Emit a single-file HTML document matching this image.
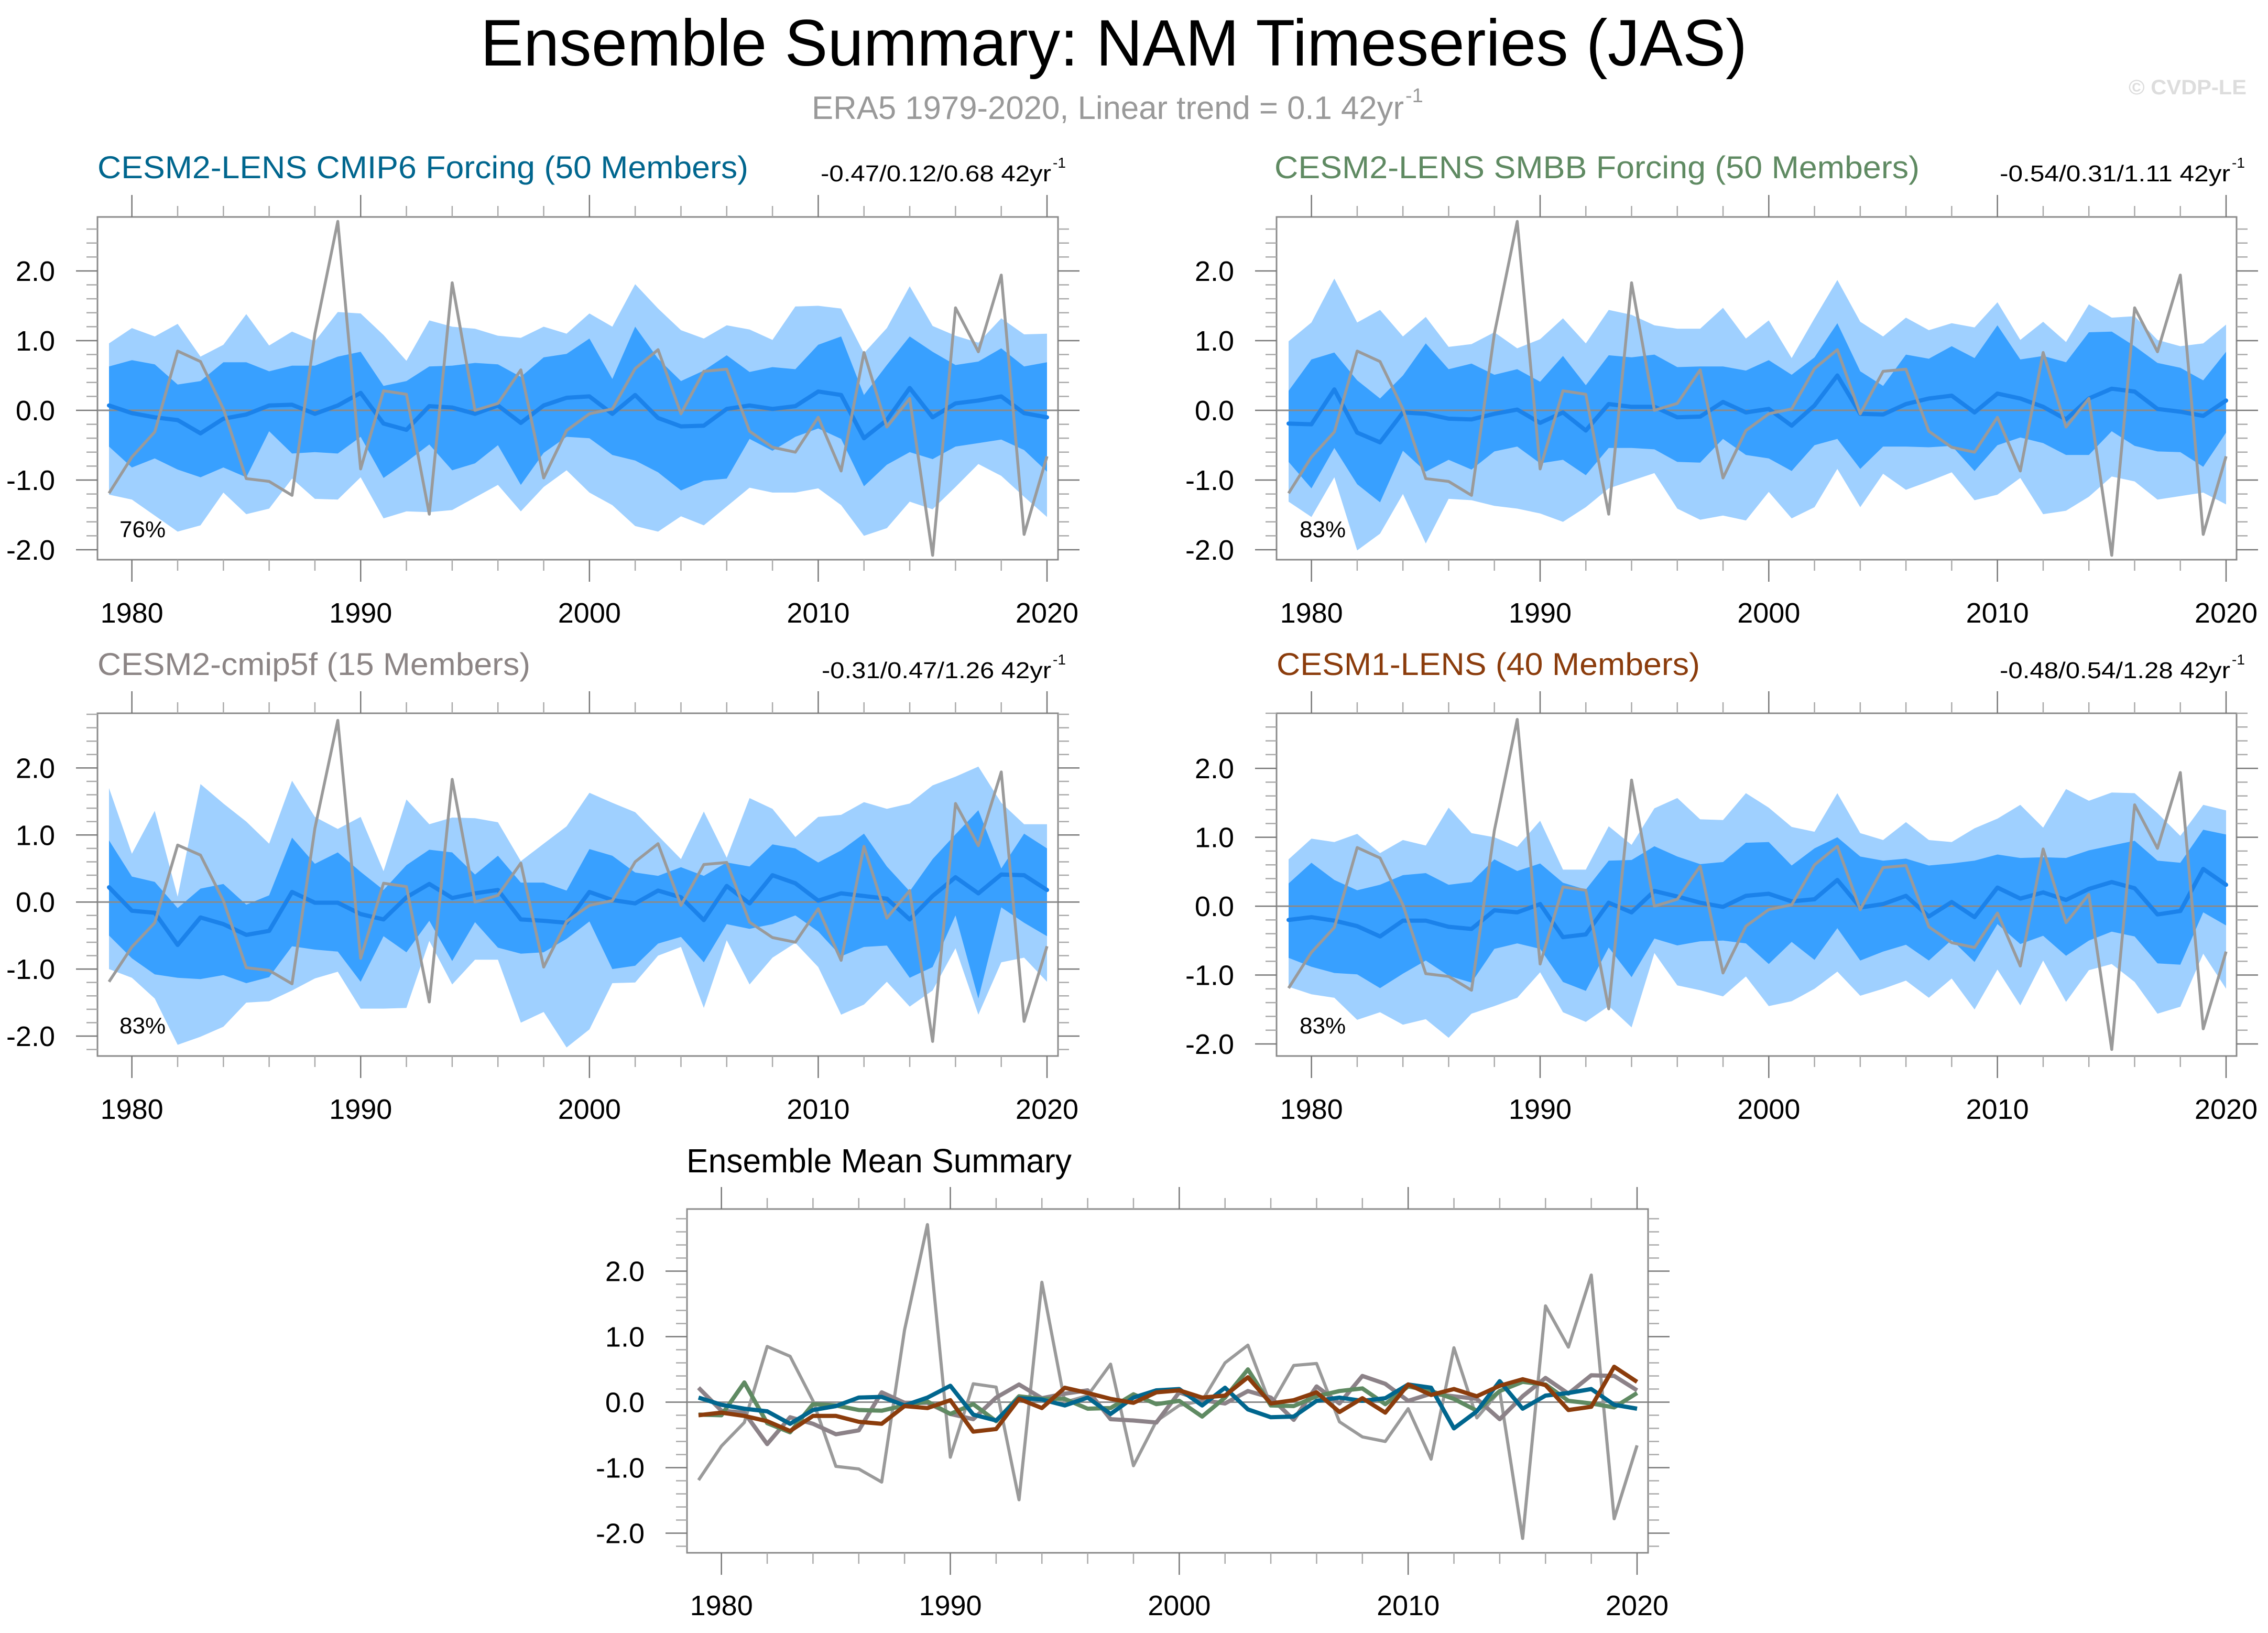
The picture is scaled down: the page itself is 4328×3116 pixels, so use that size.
<!DOCTYPE html>
<html><head><meta charset="utf-8"><title>Ensemble Summary: NAM Timeseries (JAS)</title>
<style>html,body{margin:0;padding:0;background:#fff}svg{display:block}text{font-family:"Liberation Sans",Arial,sans-serif}</style>
</head><body>
<svg id="chart" xmlns="http://www.w3.org/2000/svg" width="4328" height="3116" viewBox="0 0 4328 3116">
<rect x="0" y="0" width="4328" height="3116" fill="#fff"/>
<text x="917" y="125" font-size="125" textLength="2417" lengthAdjust="spacingAndGlyphs" fill="#000">Ensemble Summary: NAM Timeseries (JAS)</text>
<text x="1549" y="227" font-size="62" textLength="1130" lengthAdjust="spacingAndGlyphs" fill="#999">ERA5 1979-2020, Linear trend = 0.1 42yr</text>
<text x="2682" y="195" font-size="38" fill="#999">-1</text>
<text x="4062" y="180" font-size="40" font-weight="bold" textLength="225" lengthAdjust="spacingAndGlyphs" fill="#ddd">© CVDP-LE</text>
<g id="plots"></g>
</svg>
<script>
const years = [1979,1980,1981,1982,1983,1984,1985,1986,1987,1988,1989,1990,1991,1992,1993,1994,1995,1996,1997,1998,1999,2000,2001,2002,2003,2004,2005,2006,2007,2008,2009,2010,2011,2012,2013,2014,2015,2016,2017,2018,2019,2020];
const xTickYears = [1980,1990,2000,2010,2020];
const xTickLabels = ["1980","1990","2000","2010","2020"];
const yTickValues = [-2,-1,0,1,2];
const yTickLabels = ["-2.0","-1.0","0.0","1.0","2.0"];
const obs = [-1.19,-0.67,-0.31,0.85,0.70,0.02,-0.98,-1.02,-1.22,1.10,2.71,-0.84,0.28,0.23,-1.49,1.83,0.00,0.10,0.58,-0.97,-0.29,-0.05,0.02,0.60,0.87,-0.05,0.56,0.59,-0.30,-0.53,-0.60,-0.10,-0.87,0.83,-0.24,0.17,-2.08,1.47,0.84,1.94,-1.78,-0.66];

const mean1 = [0.07,-0.04,-0.10,-0.14,-0.33,-0.12,-0.06,0.07,0.08,-0.05,0.07,0.25,-0.19,-0.28,0.06,0.04,-0.05,0.07,-0.18,0.07,0.18,0.20,-0.05,0.22,-0.11,-0.23,-0.22,0.02,0.07,0.02,0.06,0.27,0.22,-0.40,-0.14,0.32,-0.10,0.10,0.14,0.20,-0.04,-0.10];
const darkHi1 = [0.63,0.72,0.66,0.37,0.42,0.69,0.69,0.56,0.64,0.64,0.77,0.84,0.35,0.42,0.63,0.64,0.68,0.66,0.48,0.76,0.81,1.03,0.45,1.20,0.74,0.42,0.57,0.79,0.55,0.62,0.59,0.94,1.06,0.22,0.65,1.06,0.84,0.65,0.70,0.89,0.63,0.69];
const darkLo1 = [-0.52,-0.82,-0.69,-0.85,-0.96,-0.82,-0.96,-0.30,-0.62,-0.60,-0.62,-0.38,-0.97,-0.74,-0.49,-0.86,-0.76,-0.50,-1.07,-0.61,-0.38,-0.40,-0.64,-0.72,-0.89,-1.15,-1.01,-0.98,-0.41,-0.58,-0.38,-0.26,-0.41,-1.09,-0.78,-0.60,-0.70,-0.52,-0.47,-0.42,-0.57,-0.88];
const lightHi1 = [0.96,1.18,1.06,1.24,0.77,0.94,1.38,0.93,1.13,0.99,1.41,1.39,1.08,0.71,1.29,1.20,1.17,1.07,1.04,1.20,1.10,1.39,1.20,1.81,1.46,1.15,1.03,1.22,1.16,1.01,1.49,1.50,1.46,0.82,1.18,1.78,1.21,1.07,0.97,1.32,1.09,1.10];
const lightLo1 = [-1.21,-1.28,-1.51,-1.74,-1.65,-1.18,-1.49,-1.41,-0.98,-1.27,-1.28,-0.96,-1.55,-1.45,-1.46,-1.43,-1.25,-1.07,-1.45,-1.10,-0.86,-1.18,-1.36,-1.66,-1.74,-1.52,-1.65,-1.38,-1.11,-1.18,-1.18,-1.12,-1.36,-1.80,-1.69,-1.31,-1.42,-1.10,-0.77,-0.94,-1.24,-1.53];

const mean2 = [-0.19,-0.20,0.30,-0.32,-0.46,-0.03,-0.05,-0.12,-0.13,-0.05,0.01,-0.18,-0.03,-0.29,0.09,0.05,0.05,-0.10,-0.09,0.12,-0.03,0.02,-0.22,0.07,0.50,-0.05,-0.06,0.09,0.17,0.21,-0.03,0.24,0.17,0.05,-0.13,0.17,0.31,0.27,0.02,-0.02,-0.08,0.14];
const darkHi2 = [0.28,0.73,0.83,0.43,0.17,0.50,0.96,0.59,0.67,0.51,0.59,0.41,0.78,0.36,0.79,0.76,0.80,0.62,0.63,0.63,0.57,0.72,0.51,0.76,1.25,0.56,0.35,0.80,0.74,0.92,0.75,1.22,0.73,0.78,0.69,1.12,1.13,0.92,0.68,0.61,0.43,0.84];
const darkLo2 = [-0.74,-1.12,-0.54,-1.06,-1.32,-0.58,-0.88,-0.71,-0.85,-0.59,-0.52,-0.76,-0.71,-0.93,-0.54,-0.54,-0.56,-0.74,-0.75,-0.41,-0.64,-0.69,-0.87,-0.50,-0.41,-0.84,-0.52,-0.52,-0.53,-0.51,-0.87,-0.50,-0.39,-0.47,-0.64,-0.64,-0.30,-0.51,-0.59,-0.60,-0.81,-0.32];
const lightHi2 = [0.99,1.26,1.89,1.26,1.44,1.06,1.34,0.91,0.95,1.12,0.89,1.02,1.32,0.96,1.44,1.37,1.22,1.17,1.17,1.47,1.03,1.29,0.75,1.32,1.87,1.27,1.06,1.33,1.15,1.25,1.19,1.55,1.01,1.27,0.98,1.52,1.33,1.35,1.01,0.92,0.96,1.23];
const lightLo2 = [-1.31,-1.53,-0.96,-2.01,-1.77,-1.20,-1.91,-1.27,-1.29,-1.37,-1.41,-1.48,-1.60,-1.39,-1.12,-1.01,-0.90,-1.41,-1.57,-1.51,-1.58,-1.17,-1.55,-1.39,-0.84,-1.39,-0.91,-1.14,-1.02,-0.89,-1.29,-1.21,-0.97,-1.49,-1.44,-1.24,-0.95,-1.02,-1.28,-1.23,-1.18,-1.35];

const mean3 = [0.22,-0.13,-0.16,-0.64,-0.23,-0.33,-0.49,-0.43,0.15,-0.01,-0.01,-0.18,-0.26,0.07,0.27,0.06,0.13,0.18,-0.26,-0.28,-0.31,0.15,0.03,-0.02,0.17,0.07,-0.27,0.24,-0.02,0.40,0.28,0.02,0.13,0.09,0.05,-0.26,0.09,0.37,0.13,0.41,0.40,0.18];
const darkHi3 = [0.92,0.38,0.30,-0.09,0.20,0.27,-0.04,0.10,0.96,0.57,0.74,0.45,0.18,0.55,0.78,0.74,0.41,0.69,0.29,0.29,0.17,0.79,0.69,0.44,0.39,0.52,0.39,0.59,0.53,0.86,0.80,0.59,0.77,1.02,0.53,0.16,0.64,1.01,1.37,0.50,1.02,0.80];
const darkLo3 = [-0.50,-0.84,-1.08,-1.13,-1.15,-1.09,-1.21,-1.12,-0.66,-0.71,-0.74,-1.19,-0.51,-0.75,-0.28,-0.88,-0.30,-0.68,-0.77,-0.75,-0.55,-0.29,-1.00,-0.95,-0.62,-0.52,-0.90,-0.33,-0.40,-0.33,-0.20,-0.44,-0.81,-0.67,-0.65,-1.13,-0.97,-0.20,-1.44,-0.08,-0.31,-0.51];
const lightHi3 = [1.70,0.72,1.36,0.08,1.76,1.47,1.20,0.87,1.81,1.27,1.09,1.27,0.46,1.53,1.16,1.26,1.25,1.19,0.61,0.87,1.13,1.63,1.48,1.34,0.99,0.64,1.35,0.66,1.55,1.39,0.97,1.27,1.30,1.49,1.39,1.47,1.74,1.87,2.02,1.48,1.16,1.16];
const lightLo3 = [-1.00,-1.13,-1.44,-2.13,-2.01,-1.86,-1.50,-1.48,-1.32,-1.14,-1.04,-1.59,-1.59,-1.58,-0.58,-1.23,-0.86,-0.86,-1.80,-1.64,-2.17,-1.90,-1.21,-1.20,-0.80,-0.67,-1.58,-0.57,-1.23,-0.83,-0.61,-0.97,-1.68,-1.53,-1.19,-1.56,-1.32,-0.69,-1.68,-0.90,-0.83,-1.19];

const mean4 = [-0.20,-0.16,-0.21,-0.29,-0.44,-0.21,-0.21,-0.30,-0.33,-0.06,-0.09,0.03,-0.45,-0.41,0.05,-0.09,0.22,0.14,0.05,-0.01,0.15,0.18,0.07,0.10,0.38,-0.02,0.03,0.15,-0.15,0.06,-0.16,0.27,0.11,0.20,0.09,0.25,0.35,0.26,-0.12,-0.07,0.54,0.31];
const darkHi4 = [0.33,0.63,0.38,0.23,0.31,0.45,0.48,0.31,0.35,0.68,0.51,0.62,0.34,0.24,0.66,0.67,0.87,0.72,0.61,0.64,0.92,0.93,0.59,0.84,1.00,0.72,0.66,0.69,0.59,0.62,0.66,0.75,0.70,0.71,0.70,0.81,0.88,0.95,0.66,0.63,1.11,1.04];
const darkLo4 = [-0.75,-0.88,-0.97,-0.99,-1.19,-0.98,-0.79,-1.01,-1.11,-0.62,-0.54,-0.62,-1.10,-1.23,-0.60,-1.03,-0.47,-0.57,-0.51,-0.50,-0.54,-0.84,-0.52,-0.78,-0.32,-0.79,-0.66,-0.56,-0.79,-0.49,-0.81,-0.26,-0.55,-0.43,-0.72,-0.50,-0.37,-0.44,-0.83,-0.85,-0.09,-0.28];
const lightHi4 = [0.68,0.98,0.93,1.05,0.77,0.96,0.88,1.43,1.06,1.00,0.86,1.24,0.53,0.53,1.16,0.89,1.42,1.57,1.26,1.25,1.64,1.43,1.15,1.08,1.64,1.06,0.96,1.22,0.96,0.93,1.13,1.27,1.47,1.14,1.70,1.53,1.65,1.64,1.35,1.02,1.47,1.39];
const lightLo4 = [-1.17,-1.28,-1.33,-1.65,-1.54,-1.72,-1.64,-1.91,-1.56,-1.45,-1.33,-0.96,-1.54,-1.68,-1.45,-1.76,-0.68,-1.15,-1.22,-1.31,-1.02,-1.45,-1.38,-1.20,-0.95,-1.30,-1.20,-1.08,-1.33,-1.05,-1.50,-0.92,-1.44,-0.79,-1.39,-0.93,-0.84,-1.10,-1.56,-1.46,-0.69,-1.20];

const panelTitles = ["CESM2-LENS CMIP6 Forcing (50 Members)","CESM2-LENS SMBB Forcing (50 Members)","CESM2-cmip5f (15 Members)","CESM1-LENS (40 Members)"];
const trendLabels = ["-0.47/0.12/0.68 42yr","-0.54/0.31/1.11 42yr","-0.31/0.47/1.26 42yr","-0.48/0.54/1.28 42yr"];
const pctLabels = ["76%","83%","83%","83%"];

const NS = "http://www.w3.org/2000/svg";
const root = document.getElementById('plots');
function mk(tag, attrs, parent) {
  const e = document.createElementNS(NS, tag);
  for (const k in attrs) e.setAttribute(k, attrs[k]);
  (parent || root).appendChild(e);
  return e;
}
function makeScales(L) {
  const sx = yr => L.xa + (yr - 1979) * (L.xb - L.xa) / 41;
  const sy = v => L.y0 + (L.ymax - v) * (L.y1 - L.y0) / (L.ymax - L.ymin);
  return {sx, sy};
}
function drawAxes(g, L, S, key) {
  const box = mk('rect', {x:L.x0, y:L.y0, width:L.x1-L.x0, height:L.y1-L.y0, fill:'none', stroke:'#8a8a8a', 'stroke-width':3}, g);
  
  
  // zero line
  const z = mk('line', {x1:L.x0, x2:L.x1, y1:S.sy(0), y2:S.sy(0), stroke:'#8a8a8a', 'stroke-width':3}, g);
  
  
  // x ticks
  for (let yr = 1980; yr <= 2020; yr += 2) {
    const major = yr % 10 === 0;
    const len = major ? 42 : 21;
    const x = S.sx(yr);
    const t1 = mk('line', {x1:x, x2:x, y1:L.y0, y2:L.y0-len, stroke:major?'#777':'#aaa', 'stroke-width':2.5}, g);
    
    
    const t2 = mk('line', {x1:x, x2:x, y1:L.y1, y2:L.y1+len, stroke:major?'#777':'#aaa', 'stroke-width':2.5}, g);
    
    
  }
  xTickYears.forEach((yr, i) => {
    const t = mk('text', {x:S.sx(yr), y:L.yl, 'font-size':54, 'text-anchor':'middle', fill:'#000'}, g);
    t.textContent = xTickLabels[i];
    
    
  });
  // y ticks
  for (let k = -25; k <= 30; k++) {
    const v = k / 5;
    if (v < L.ymin || v > L.ymax) continue;
    const major = k % 5 === 0;
    const len = major ? 41 : 21;
    const y = S.sy(v);
    const a = mk('line', {x1:L.x0-len, x2:L.x0, y1:y, y2:y, stroke:major?'#777':'#aaa', 'stroke-width':2.5}, g);
    
    
    const b = mk('line', {x1:L.x1, x2:L.x1+len, y1:y, y2:y, stroke:major?'#777':'#aaa', 'stroke-width':2.5}, g);
    
    
  }
  yTickValues.forEach((v, i) => {
    if (v < L.ymin || v > L.ymax) return;
    const t = mk('text', {x:L.x0-81, y:S.sy(v)+19, 'font-size':54, 'text-anchor':'end', fill:'#000'}, g);
    t.textContent = yTickLabels[i];
    
    
  });
}
function linePath(S, vals) {
  return vals.map((v, i) => (i ? 'L' : 'M') + S.sx(years[i]).toFixed(1) + ',' + S.sy(v).toFixed(1)).join(' ');
}
function bandPath(S, hi, lo) {
  let d = hi.map((v, i) => (i ? 'L' : 'M') + S.sx(years[i]).toFixed(1) + ',' + S.sy(v).toFixed(1)).join(' ');
  for (let i = lo.length - 1; i >= 0; i--) d += ' L' + S.sx(years[i]).toFixed(1) + ',' + S.sy(lo[i]).toFixed(1);
  return d + ' Z';
}

const layouts = [
  {x0:186, x1:2019, xa:208, xb:1998, y0:414, y1:1068, ymin:-2.143, ymax:2.774, yl:1188, tx:186, ty:340, tw:1242, sx:1566, sw:440, px:228, py:1025, color:'#00668e'},
  {x0:2436, x1:4268, xa:2459, xb:4248, y0:414, y1:1068, ymin:-2.143, ymax:2.774, yl:1188, tx:2432, ty:340, tw:1231, sx:3816, sw:440, px:2480, py:1025, color:'#5f8a62'},
  {x0:186, x1:2019, xa:208, xb:1998, y0:1361, y1:2015, ymin:-2.297, ymax:2.816, yl:2135, tx:186, ty:1288, tw:826, sx:1568, sw:438, px:228, py:1972, color:'#8c8585'},
  {x0:2436, x1:4268, xa:2459, xb:4248, y0:1361, y1:2015, ymin:-2.175, ymax:2.80, yl:2135, tx:2436, ty:1288, tw:808, sx:3816, sw:440, px:2480, py:1972, color:'#8b3c0c'}
];
const panelData = [
  [mean1, darkHi1, darkLo1, lightHi1, lightLo1],
  [mean2, darkHi2, darkLo2, lightHi2, lightLo2],
  [mean3, darkHi3, darkLo3, lightHi3, lightLo3],
  [mean4, darkHi4, darkLo4, lightHi4, lightLo4]
];

layouts.forEach((L, p) => {
  const key = 'panel' + (p + 1);
  const g = mk('g', {});
  
  
  const S = makeScales(L);
  const [m, dh, dl, lh, ll] = panelData[p];
  const lb = mk('path', {d:bandPath(S, lh, ll), fill:'#9fd0ff'}, g);
  
  
  const db = mk('path', {d:bandPath(S, dh, dl), fill:'#38a0ff'}, g);
  
  
  drawAxes(g, L, S, key);
  const ml = mk('path', {d:linePath(S, m), fill:'none', stroke:'#1b82ea', 'stroke-width':8, 'stroke-linejoin':'round', 'stroke-linecap':'round'}, g);
  
  
  const ol = mk('path', {d:linePath(S, obs), fill:'none', stroke:'#9a9a9a', 'stroke-width':5.5, 'stroke-linejoin':'round'}, g);
  
  
  const t = mk('text', {x:L.tx, y:L.ty, 'font-size':60, fill:L.color, textLength:L.tw, lengthAdjust:'spacingAndGlyphs'}, g);
  t.textContent = panelTitles[p];
  
  
  const s = mk('text', {x:L.sx, y:L.ty+6, 'font-size':44, fill:'#000', textLength:L.sw, lengthAdjust:'spacingAndGlyphs'}, g);
  s.textContent = trendLabels[p];
  
  
  const ss = mk('text', {x:L.sx+L.sw+3, y:L.ty-20, 'font-size':28, fill:'#000'}, g);
  ss.textContent = '-1';
  
  
  const pc = mk('text', {x:L.px, y:L.py, 'font-size':44, fill:'#000'}, g);
  pc.textContent = pctLabels[p];
  
  
});

// Ensemble mean summary panel
const L5 = {x0:1311, x1:3145, xa:1333, xb:3124, y0:2307, y1:2963, ymin:-2.30, ymax:2.948, yl:3082};
const g5 = mk('g', {});


const S5 = makeScales(L5);
drawAxes(g5, L5, S5, 'summary');
const t5 = mk('text', {x:1310, y:2237, 'font-size':64, fill:'#000', textLength:735, lengthAdjust:'spacingAndGlyphs'}, g5);
t5.textContent = 'Ensemble Mean Summary';


const o5 = mk('path', {d:linePath(S5, obs), fill:'none', stroke:'#9a9a9a', 'stroke-width':6, 'stroke-linejoin':'round'}, g5);


const summaryColors = ['#8c8288', '#5f8a62', '#00668e', '#8b3c0c'];
const summarySeries = [mean3, mean2, mean1, mean4];
const summaryNames = ['summary-cesm2-cmip5f-mean-line', 'summary-cesm2-smbb-mean-line', 'summary-cesm2-cmip6-mean-line', 'summary-cesm1-lens-mean-line'];
summarySeries.forEach((s, i) => {
  const pth = mk('path', {d:linePath(S5, s), fill:'none', stroke:summaryColors[i], 'stroke-width':8, 'stroke-linejoin':'round'}, g5);
  
  
});
</script>
</body></html>
